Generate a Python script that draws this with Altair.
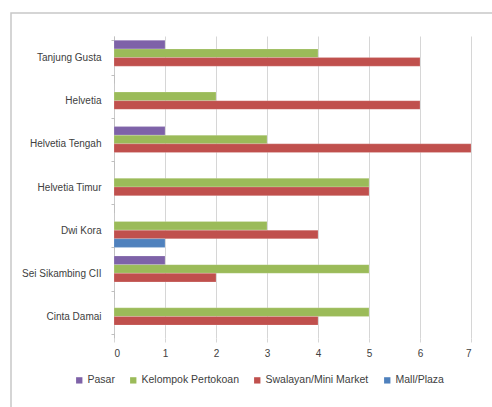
import altair as alt
import pandas as pd

categories = ["Tanjung Gusta", "Helvetia", "Helvetia Tengah", "Helvetia Timur",
              "Dwi Kora", "Sei Sikambing CII", "Cinta Damai"]
series = ["Pasar", "Kelompok Pertokoan", "Swalayan/Mini Market", "Mall/Plaza"]
pasar = [1, 0, 1, 0, 0, 1, 0]
kelompok = [4, 2, 3, 5, 3, 5, 5]
swalayan = [6, 6, 7, 5, 4, 2, 4]
mall = [0, 0, 0, 0, 1, 0, 0]
colors = ["#7E62A8", "#9BBB59", "#C0504D", "#4F81BD"]
x_ticks = [0, 1, 2, 3, 4, 5, 6, 7]

rows = []
for s, vals in zip(series, [pasar, kelompok, swalayan, mall]):
    for c, v in zip(categories, vals):
        rows.append({"Kelurahan": c, "Jenis": s, "Jumlah": v})
df = pd.DataFrame(rows)

border = alt.Chart(pd.DataFrame({"a": [0]})).mark_rect(
    fill=None, stroke="#C8C8C8", strokeWidth=1.5
).encode(
    x=alt.value(-103), x2=alt.value(420),
    y=alt.value(-23), y2=alt.value(420),
)

bars = alt.Chart(df).mark_bar(strokeWidth=0.6, stroke="#FFFFFF", strokeOpacity=0.3).encode(
    y=alt.Y("Kelurahan:N", sort=categories,
            scale=alt.Scale(paddingInner=0.2, paddingOuter=0.1),
            axis=alt.Axis(title=None, labelFont="Liberation Sans", labelFontSize=10,
                          labelColor="#404040", domainColor="#BFBFBF", tickColor="#BFBFBF",
                          tickSize=3, tickBand="extent", labelPadding=10)),
    yOffset=alt.YOffset("Jenis:N", sort=series),
    x=alt.X("Jumlah:Q", scale=alt.Scale(domain=[0, 7]),
            axis=alt.Axis(title=None, values=x_ticks, format="d", grid=True,
                          gridColor="#D6D6D6", domain=False, tickColor="#D6D6D6",
                          tickSize=4, labelFont="Liberation Sans", labelFontSize=10,
                          labelColor="#404040", labelPadding=6)),
    color=alt.Color("Jenis:N", sort=series,
                    scale=alt.Scale(domain=series, range=colors),
                    legend=alt.Legend(title=None, orient="none", direction="horizontal",
                                      legendX=-40, legendY=339, symbolType="square",
                                      symbolSize=40, symbolStrokeWidth=0,
                                      labelFont="Liberation Sans", labelFontSize=10.5,
                                      labelColor="#404040", columnPadding=13,
                                      labelOffset=3)),
)

chart = alt.layer(border, bars).properties(
    width=357, height=302,
    autosize=alt.AutoSizeParams(type="none"),
    padding={"left": 114, "top": 36, "right": 21, "bottom": 69},
    background="white",
).configure_view(stroke=None)

chart.save("out.html", embed_options={"renderer": "svg", "actions": False})
